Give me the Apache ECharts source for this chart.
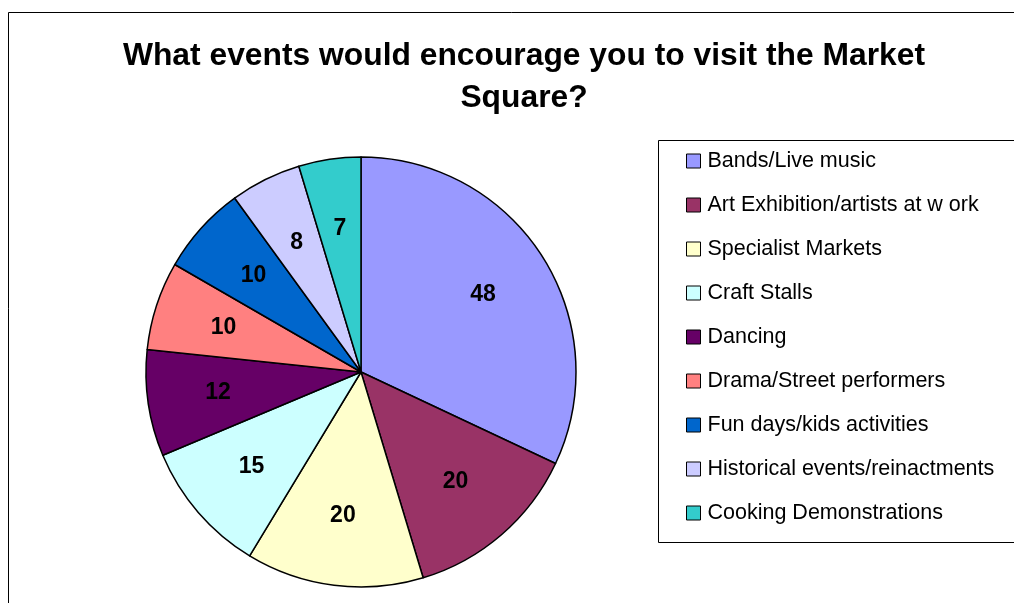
<!DOCTYPE html>
<html>
<head>
<meta charset="utf-8">
<script src="https://cdn.jsdelivr.net/npm/echarts@6/dist/echarts.min.js"></script>
<style>html,body{margin:0;padding:0;background:#fff;}#c{width:1014px;height:603px;}</style>
</head>
<body>
<div id="c"></div>
<script>
const categories = ['Bands/Live music','Art Exhibition/artists at w ork','Specialist Markets','Craft Stalls','Dancing','Drama/Street performers','Fun days/kids activities','Historical events/reinactments','Cooking Demonstrations'];
const values = [48, 20, 20, 15, 12, 10, 10, 8, 7];
const colors = ['#9999FF','#993366','#FFFFCC','#CCFFFF','#660066','#FF8080','#0066CC','#CCCCFF','#33CCCC'];
const titleText = 'What events would encourage you to visit the Market\nSquare?';

const chart = echarts.init(document.getElementById('c'), null, {renderer:'canvas'});
const data = categories.map((n,i)=>({name:n, value:values[i], itemStyle:{color:colors[i]}}));
const labelData = categories.map((n,i)=>({name:n, value:values[i]}));
chart.setOption({
  animation:false,
  backgroundColor:'#fff',
  title:{
    text:titleText, left:519, top:30, textAlign:'center',
    textStyle:{fontFamily:'Liberation Sans, Arial', fontWeight:'bold', fontSize:31.8, lineHeight:42, color:'#000'}
  },
  legend:{
    orient:'vertical', left:681, top:145, itemWidth:14, itemHeight:14, itemGap:22,
    icon:'rect', data:categories,
    itemStyle:{borderColor:'#000', borderWidth:1},
    textStyle:{fontFamily:'Liberation Sans, Arial', fontSize:21.5, lineHeight:22, color:'#000', padding:[0,0,0,2]}
  },
  graphic:[
    {type:'rect', shape:{x:8.5,y:12.5,width:1100,height:700}, style:{fill:'none', stroke:'#000', lineWidth:1}, z:-1},
    {type:'rect', shape:{x:658.5,y:140.5,width:500,height:402}, style:{fill:'none', stroke:'#000', lineWidth:1}, z:-1}
  ],
  series:[
    {
      type:'pie', center:[361,372], radius:[0,215], startAngle:90, clockwise:true,
      label:{show:false}, labelLine:{show:false}, silent:true,
      itemStyle:{borderColor:'#000', borderWidth:1.5},
      data:data
    },
    {
      type:'pie', center:[361,372], radius:[68,215], startAngle:90, clockwise:true,
      silent:true, legendHoverLink:false,
      itemStyle:{color:'rgba(0,0,0,0)', borderWidth:0},
      label:{show:true, position:'inside', formatter:'{c}', fontFamily:'Liberation Sans, Arial', fontWeight:'bold', fontSize:23, color:'#000'},
      labelLine:{show:false},
      data:labelData
    }
  ]
});
</script>
</body>
</html>
